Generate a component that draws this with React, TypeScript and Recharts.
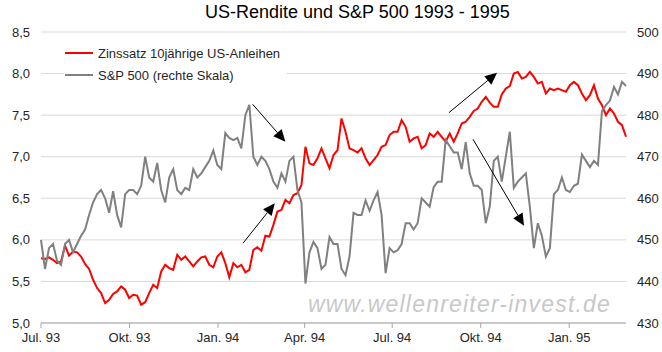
import React from "react";
import {
  LineChart,
  Line,
  XAxis,
  YAxis,
  CartesianGrid,
  Legend,
  ReferenceLine,
} from "recharts";

// Zinssatz 10jährige US-Anleihen, sampled roughly every 4 days from Jul. 93 to end Feb. 95
const yieldValues = [
  5.78, 5.77, 5.79, 5.76, 5.72, 5.74, 5.93, 5.81, 5.86, 5.85,
  5.8, 5.71, 5.65, 5.52, 5.42, 5.36, 5.24, 5.28, 5.35, 5.38,
  5.44, 5.4, 5.3, 5.34, 5.33, 5.22, 5.25, 5.36, 5.46, 5.42,
  5.62, 5.7, 5.66, 5.64, 5.82, 5.76, 5.8, 5.74, 5.68, 5.74,
  5.79, 5.8, 5.7, 5.67, 5.8, 5.85, 5.72, 5.55, 5.72, 5.67,
  5.7, 5.61, 5.64, 5.88, 5.91, 5.87, 6.05, 6.04, 6.18, 6.34,
  6.36, 6.48, 6.44, 6.54, 6.56, 6.66, 7.12, 6.92, 6.9, 6.98,
  7.1, 6.98, 6.86, 7.02, 7.08, 7.46, 7.3, 7.1, 7.08, 7.05,
  7.1, 6.98, 6.9, 6.96, 7.02, 7.12, 7.14, 7.26, 7.3, 7.3,
  7.44, 7.36, 7.18, 7.22, 7.24, 7.1, 7.14, 7.28, 7.24, 7.3,
  7.24, 7.18, 7.28, 7.18, 7.28, 7.4, 7.42, 7.48, 7.55, 7.58,
  7.66, 7.72, 7.65, 7.6, 7.6, 7.75, 7.82, 7.85, 8.0, 8.02,
  7.94, 7.96, 8.02, 7.96, 7.88, 7.9, 7.76, 7.82, 7.8, 7.82,
  7.8, 7.78, 7.86, 7.9, 7.86, 7.76, 7.68, 7.74, 7.86, 7.7,
  7.62, 7.5, 7.58, 7.52, 7.42, 7.38, 7.24,
];

// S&P 500 (rechte Skala), same sampling
const spxValues = [
  450, 443, 448, 449, 445, 444, 449, 450, 447, 449,
  451, 452.5, 456, 459, 461, 462, 460, 456.5, 461.7, 456,
  453, 461, 462, 462, 461, 463, 470, 465, 464, 468.5,
  462, 459, 465, 467, 462, 461, 462.5, 462, 467, 465,
  466, 467.5, 469, 471.5, 468, 467, 475.7, 474.5, 474, 474.5,
  472, 480, 482.5, 470, 468, 470, 469, 467, 464, 462.5,
  466, 464, 469, 470, 462, 459, 439.5, 447, 449.5, 448,
  443, 444, 450.7, 449, 449, 443, 441.5, 446, 456.5, 456,
  456, 459.5, 457, 459.5, 461.5, 456, 442, 448, 447, 447.5,
  449, 454, 454, 452.5, 454, 460, 459, 458, 462.7, 464,
  464, 474, 472.5, 471, 471, 467, 473.5, 466, 463, 463,
  462, 454, 458, 469, 470, 464, 470, 476, 462.5, 464,
  465, 466, 458, 448, 454, 451, 446, 448, 461, 462,
  465, 462, 461.5, 463, 463.5, 470.5, 469, 467.5, 469, 468,
  481, 482.4, 483.5, 486.8, 485, 488, 487,
];

const lastDay = 608;
const tickDays = [0, 92, 184, 274, 365, 457, 549];
const tickLabels = ["Jul. 93", "Okt. 93", "Jan. 94", "Apr. 94", "Jul. 94", "Okt. 94", "Jan. 95"];
const leftTicks = [5, 5.5, 6, 6.5, 7, 7.5, 8, 8.5];
const rightTicks = [430, 440, 450, 460, 470, 480, 490, 500];

// annotation arrows: [fromDay, fromYield, toDay, toYield]
const arrows = [
  [220, 7.63, 254, 7.18],
  [210, 5.96, 243, 6.44],
  [424, 7.53, 474, 8.01],
  [449, 7.21, 502, 6.17],
];

const rows = yieldValues.map((v, i) => ({
  day: (i * lastDay) / (yieldValues.length - 1),
  rendite: v,
  spx: spxValues[i],
}));

const RED = "#ff0000";
const GREY = "#808080";
const TEXT = "#262626";

const ArrowShape = (props: any) => {
  const { x1, y1, x2, y2 } = props;
  const dx = x2 - x1;
  const dy = y2 - y1;
  const len = Math.sqrt(dx * dx + dy * dy) || 1;
  const ux = dx / len;
  const uy = dy / len;
  const bx = x2 - ux * 12;
  const by = y2 - uy * 12;
  const nx = -uy * 5.5;
  const ny = ux * 5.5;
  return (
    <g>
      <line x1={x1} y1={y1} x2={bx} y2={by} stroke="#000" strokeWidth={1} />
      <polygon
        points={`${x2},${y2} ${bx + nx},${by + ny} ${bx - nx},${by - ny}`}
        fill="#000"
      />
    </g>
  );
};

const renderLegend = () => (
  <div style={{ background: "#fff", width: 223, paddingTop: 2, paddingBottom: 2 }}>
    {[
      { color: RED, label: "Zinssatz 10jährige US-Anleihen" },
      { color: GREY, label: "S&P 500 (rechte Skala)" },
    ].map((item) => (
      <div
        key={item.label}
        style={{ display: "flex", alignItems: "center", height: 22, paddingLeft: 1 }}
      >
        <span
          style={{ display: "inline-block", width: 28, height: 2, background: item.color, marginRight: 5 }}
        />
        <span style={{ fontSize: 13, color: TEXT, whiteSpace: "nowrap" }}>{item.label}</span>
      </div>
    ))}
  </div>
);

export default function App() {
  return (
    <div
      style={{
        position: "absolute",
        left: 0,
        top: 0,
        width: 662,
        height: 352,
        background: "#fff",
        fontFamily: '"Liberation Sans", Arial, sans-serif',
      }}
    >
      <div
        style={{
          position: "absolute",
          left: 205,
          top: 2,
          fontSize: 18,
          lineHeight: "20px",
          color: "#000",
          whiteSpace: "nowrap",
        }}
      >
        US-Rendite und S&amp;P 500 1993 - 1995
      </div>
      <div
        style={{
          position: "absolute",
          left: 308,
          top: 290,
          fontSize: 23,
          lineHeight: "28px",
          fontStyle: "italic",
          letterSpacing: 1.2,
          color: "#c8c8c8",
          whiteSpace: "nowrap",
          pointerEvents: "none",
        }}
      >
        www.wellenreiter-invest.de
      </div>
      <LineChart
        width={662}
        height={352}
        data={rows}
        margin={{ top: 32, right: 0, bottom: 0, left: 0 }}
      >
        <CartesianGrid yAxisId="left" vertical={false} stroke="#d9d9d9" />
        <XAxis
          dataKey="day"
          type="number"
          domain={[0, lastDay]}
          ticks={tickDays}
          tickFormatter={(d) => tickLabels[tickDays.indexOf(d)] ?? ""}
          height={29}
          tickSize={5}
          tickMargin={5}
          stroke="#a6a6a6"
          tick={{ fill: TEXT, fontSize: 13 }}
        />
        <YAxis
          yAxisId="left"
          domain={[5, 8.5]}
          ticks={leftTicks}
          tickFormatter={(v) => v.toFixed(1).replace(".", ",")}
          width={41}
          axisLine={false}
          tickLine={false}
          tickSize={0}
          tickMargin={11}
          tick={{ fill: TEXT, fontSize: 13 }}
        />
        <YAxis
          yAxisId="right"
          orientation="right"
          domain={[430, 500]}
          ticks={rightTicks}
          width={36}
          axisLine={false}
          tickLine={false}
          tickSize={0}
          tickMargin={11}
          tick={{ fill: TEXT, fontSize: 13 }}
        />
        <Legend
          content={renderLegend}
          layout="horizontal"
          align="center"
          verticalAlign="middle"
          wrapperStyle={{ left: 64, top: 40, width: 223 }}
        />
        <Line
          yAxisId="left"
          dataKey="rendite"
          type="linear"
          stroke={RED}
          strokeWidth={2}
          dot={false}
          isAnimationActive={false}
        />
        <Line
          yAxisId="right"
          dataKey="spx"
          type="linear"
          stroke={GREY}
          strokeWidth={2}
          dot={false}
          isAnimationActive={false}
        />
        {arrows.map((a, i) => (
          <ReferenceLine
            key={i}
            yAxisId="left"
            segment={[
              { x: a[0], y: a[1] },
              { x: a[2], y: a[3] },
            ]}
            ifOverflow="visible"
            shape={ArrowShape}
          />
        ))}
      </LineChart>
    </div>
  );
}
